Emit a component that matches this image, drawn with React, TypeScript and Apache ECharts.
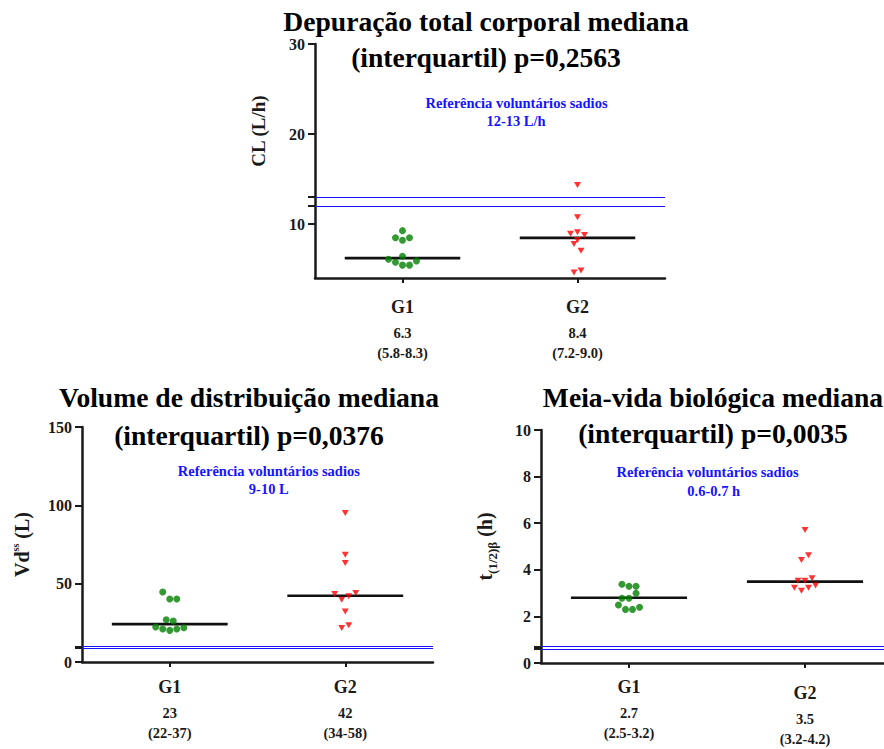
import React, { useEffect, useRef } from 'react';
import * as echarts from 'echarts';

const FONT = '"Liberation Serif", "Times New Roman", serif';
const AXIS_COLOR = '#1a1a1a';
const GREEN = '#008000';
const RED = '#ff0000';
const BLUE = '#1414ff';

const groups = ['G1', 'G2'];

// Panel 1 — CL (L/h)
const clTitle = ['Depuração total corporal mediana', '(interquartil) p=0,2563'];
const clG1 = [9.26, 8.48, 8.19, 8.48, 6.41, 6.08, 5.76, 5.43, 5.43, 5.9];
const clG1Jitter = [0, -0.04, 0, 0.04, 0, -0.08, -0.04, 0, 0.04, 0.08];
const clG2 = [14.32, 10.74, 8.93, 9.08, 8.78, 8.23, 7.79, 7.04, 4.61, 4.83];
const clG2Jitter = [0, 0, -0.04, 0, 0.04, 0, -0.02, 0.02, -0.02, 0.02];
const clMedian = [6.2, 8.45];
const clMedianLabels = ['6.3', '8.4'];
const clIqrLabels = ['(5.8-8.3)', '(7.2-9.0)'];
const clReference = [12, 13];
const clRefText = ['Referência voluntários sadios', '12-13 L/h'];
const clTicks = [10, 20, 30];

// Panel 2 — Vdss (L)
const vdTitle = ['Volume de distribuição mediana', '(interquartil) p=0,0376'];
const vdG1 = [44.7, 40.2, 40.2, 27.0, 26.2, 22.3, 21.1, 20.2, 21.1, 21.9];
const vdG1Jitter = [-0.04, 0, 0.04, -0.02, 0.02, -0.08, -0.04, 0, 0.04, 0.08];
const vdG2 = [95.1, 68.5, 63.2, 43.4, 39.8, 41.9, 44.0, 32.3, 21.7, 23.4];
const vdG2Jitter = [0, 0, 0, -0.06, -0.02, 0.02, 0.06, 0, -0.02, 0.02];
const vdMedian = [24.2, 42.3];
const vdMedianLabels = ['23', '42'];
const vdIqrLabels = ['(22-37)', '(34-58)'];
const vdReference = [9, 10];
const vdRefText = ['Referência voluntários sadios', '9-10 L'];
const vdTicks = [0, 50, 100, 150];

// Panel 3 — t(1/2)β (h)
const tTitle = ['Meia-vida biológica mediana', '(interquartil) p=0,0035'];
const tG1 = [3.38, 3.29, 3.29, 2.99, 2.78, 2.78, 2.49, 2.3, 2.3, 2.39];
const tG1Jitter = [-0.04, 0, 0.04, 0.04, -0.04, 0, -0.06, -0.02, 0.02, 0.06];
const tG2 = [5.71, 4.42, 4.62, 3.53, 3.53, 3.64, 3.23, 3.1, 3.23, 3.33];
const tG2Jitter = [0, -0.02, 0.02, -0.04, 0, 0.04, -0.06, -0.02, 0.02, 0.06];
const tMedian = [2.8, 3.49];
const tMedianLabels = ['2.7', '3.5'];
const tIqrLabels = ['(2.5-3.2)', '(3.2-4.2)'];
const tReference = [0.6, 0.7];
const tRefText = ['Referência voluntários sadios', '0.6-0.7 h'];
const tTicks = [0, 2, 4, 6, 8, 10];

type Panel = {
  grid: { left: number; top: number; width: number; height: number };
  yMin: number;
  yMax: number;
  ticks: number[];
  reference: number[];
  g1: number[];
  g1J: number[];
  g2: number[];
  g2J: number[];
  median: number[];
  medLabels: string[];
  iqrLabels: string[];
  name: string;
  nameRich: any;
  nameGap: number;
  namePadding?: number[];
  labelMargin: number;
  g2Shift?: number;
};

const panels: Panel[] = [
  {
    grid: { left: 315, top: 44, width: 350, height: 234 },
    yMin: 4, yMax: 30, ticks: clTicks, reference: clReference,
    g1: clG1, g1J: clG1Jitter, g2: clG2, g2J: clG2Jitter,
    median: clMedian, medLabels: clMedianLabels, iqrLabels: clIqrLabels,
    name: '{m|CL (L/h)}',
    nameRich: { m: { fontSize: 19, fontWeight: 'bold', fontFamily: FONT, color: AXIS_COLOR } },
    nameGap: 47, namePadding: [0, 0, 0, 60], labelMargin: 13,
  },
  {
    grid: { left: 82, top: 427, width: 351, height: 235 },
    yMin: 0, yMax: 150, ticks: vdTicks, reference: vdReference,
    g1: vdG1, g1J: vdG1Jitter, g2: vdG2, g2J: vdG2Jitter,
    median: vdMedian, medLabels: vdMedianLabels, iqrLabels: vdIqrLabels,
    name: '{m|Vd}{sup|ss}{m| (L)}',
    nameRich: {
      m: { fontSize: 20, fontWeight: 'bold', fontFamily: FONT, color: AXIS_COLOR, lineHeight: 24, verticalAlign: 'middle' },
      sup: { fontSize: 10, fontWeight: 'bold', fontFamily: FONT, color: AXIS_COLOR, verticalAlign: 'top' },
    },
    nameGap: 48, labelMargin: 8.5,
  },
  {
    grid: { left: 541, top: 430, width: 352, height: 233 },
    yMin: 0, yMax: 10, ticks: tTicks, reference: tReference,
    g1: tG1, g1J: tG1Jitter, g2: tG2, g2J: tG2Jitter,
    median: tMedian, medLabels: tMedianLabels, iqrLabels: tIqrLabels,
    name: '{m|t}{sub|(1/2)β}{m| (h)}',
    nameRich: {
      m: { fontSize: 20, fontWeight: 'bold', fontFamily: FONT, color: AXIS_COLOR, lineHeight: 28, verticalAlign: 'middle' },
      sub: { fontSize: 13, fontWeight: 'bold', fontFamily: FONT, color: AXIS_COLOR, verticalAlign: 'bottom' },
    },
    nameGap: 42, labelMargin: 7.7, g2Shift: 6.6,
  },
];

const titles = [
  { lines: clTitle, x: 486, y: 39.5, lh: 36 },
  { lines: vdTitle, x: 249, y: 416.7, lh: 37.5 },
  { lines: tTitle, x: 713, y: 415.3, lh: 36.5 },
];

const refTexts = [
  { lines: clRefText, pos: [[516.5, 102.7], [516, 121]] },
  { lines: vdRefText, pos: [[268.8, 470.7], [268.8, 489.3]] },
  { lines: tRefText, pos: [[707.5, 471.7], [713.7, 490.7]] },
];

function buildOption() {
  const grid: any[] = [];
  const xAxis: any[] = [];
  const yAxis: any[] = [];
  const series: any[] = [];

  panels.forEach((p, i) => {
    grid.push({ ...p.grid, containLabel: false, outerBoundsMode: 'none' });
    const rich: any = {
      g: { fontSize: 18, fontWeight: 'bold', fontFamily: FONT, color: AXIS_COLOR, lineHeight: 32 },
      v: { fontSize: 14.5, fontWeight: 'bold', fontFamily: FONT, color: AXIS_COLOR, lineHeight: 20 },
      sp: { fontSize: 1, lineHeight: p.g2Shift || 0 },
    };
    xAxis.push({
      type: 'value',
      gridIndex: i,
      min: -0.5,
      max: 1.5,
      splitLine: { show: false },
      axisLine: { onZero: false, lineStyle: { color: AXIS_COLOR, width: 2.5 } },
      axisTick: { customValues: [0, 1], length: 5, lineStyle: { color: AXIS_COLOR, width: 2 } },
      axisLabel: {
        customValues: [0, 1],
        margin: p.labelMargin,
        rich,
        formatter: (val: number) => {
          const k = Math.round(val);
          const pre = k === 1 && p.g2Shift ? '{sp| }\n' : '';
          return `${pre}{g|${groups[k]}}\n{v|${p.medLabels[k]}}\n{v|${p.iqrLabels[k]}}`;
        },
      },
    });
    const tickVals = [...p.ticks, ...p.reference].sort((a, b) => a - b);
    yAxis.push({
      type: 'value',
      gridIndex: i,
      min: p.yMin,
      max: p.yMax,
      splitLine: { show: false },
      axisLine: { show: true, onZero: false, lineStyle: { color: AXIS_COLOR, width: 2.5 } },
      axisTick: { show: true, customValues: tickVals, length: 7, lineStyle: { color: AXIS_COLOR, width: 2 } },
      axisLabel: {
        customValues: p.ticks,
        margin: 10,
        fontSize: 16,
        fontWeight: 'bold',
        fontFamily: FONT,
        color: AXIS_COLOR,
      },
      name: p.name,
      nameLocation: 'middle',
      nameRotate: 90,
      nameGap: p.nameGap,
      nameTextStyle: { rich: p.nameRich, padding: p.namePadding || 0 },
    });

    // reference lines
    series.push({
      type: 'line',
      xAxisIndex: i,
      yAxisIndex: i,
      data: [],
      silent: true,
      markLine: {
        silent: true,
        symbol: 'none',
        label: { show: false },
        lineStyle: { color: BLUE, width: 1.2, type: 'solid' },
        data: p.reference.map((r) => ({ yAxis: r })),
      },
    });

    // median lines
    p.median.forEach((m, k) => {
      series.push({
        type: 'line',
        xAxisIndex: i,
        yAxisIndex: i,
        data: [[k - 0.33, m], [k + 0.33, m]],
        symbol: 'none',
        silent: true,
        lineStyle: { color: '#111', width: 2.7 },
        z: 2,
      });
    });

    series.push({
      type: 'scatter',
      xAxisIndex: i,
      yAxisIndex: i,
      symbol: 'circle',
      symbolSize: 7,
      itemStyle: { color: GREEN },
      data: p.g1.map((v, k) => [0 + p.g1J[k], v]),
      z: 3,
    });
    series.push({
      type: 'scatter',
      xAxisIndex: i,
      yAxisIndex: i,
      symbol: 'triangle',
      symbolRotate: 180,
      symbolSize: [7, 6],
      itemStyle: { color: RED },
      data: p.g2.map((v, k) => [1 + p.g2J[k], v]),
      z: 3,
    });
  });

  const graphic: any[] = [];
  titles.forEach((t) => {
    graphic.push({
      type: 'text',
      x: t.x,
      y: t.y,
      style: {
        text: t.lines.join('\n'),
        font: `bold 27.6px ${FONT}`,
        fill: '#000',
        align: 'center',
        verticalAlign: 'middle',
        textAlign: 'center',
        textVerticalAlign: 'middle',
        lineHeight: t.lh,
      },
    });
  });
  refTexts.forEach((r) => {
    r.lines.forEach((line, k) => {
      graphic.push({
        type: 'text',
        x: r.pos[k][0],
        y: r.pos[k][1],
        style: {
          text: line,
          font: `bold 14.5px ${FONT}`,
          fill: BLUE,
          align: 'center',
          verticalAlign: 'middle',
          textAlign: 'center',
          textVerticalAlign: 'middle',
        },
      });
    });
  });

  return {
    animation: false,
    backgroundColor: '#ffffff',
    grid,
    xAxis,
    yAxis,
    series,
    graphic,
  };
}

export default function App() {
  const ref = useRef<HTMLDivElement>(null);
  useEffect(() => {
    document.body.style.margin = '0';
    if (!ref.current) return;
    const chart = echarts.init(ref.current, null, { renderer: 'svg' });
    chart.setOption(buildOption() as any);
    return () => chart.dispose();
  }, []);
  return <div ref={ref} style={{ width: 884, height: 749 }} />;
}
